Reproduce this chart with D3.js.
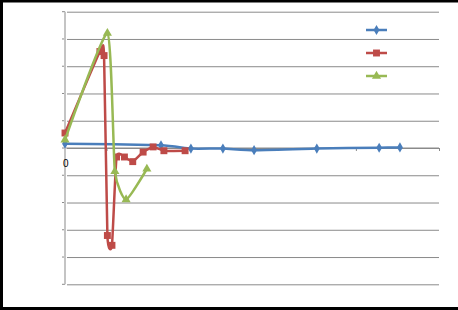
<!DOCTYPE html>
<html>
<head>
<meta charset="utf-8">
<script src="https://cdn.jsdelivr.net/npm/d3@7"></script>
<style>
  body { margin: 0; background: #fff; }
  svg { display: block; }
</style>
</head>
<body>
<div id="chart"></div>
<script>
// series data
const blueX = [0, 2.31, 3.03, 3.80, 4.55, 6.06, 7.56, 8.06];
const blueY = [0.16, 0.10, -0.02, -0.02, -0.08, -0.02, 0.01, 0.02];

const redX = [0, 0.84, 0.94, 1.02, 1.13, 1.24, 1.43, 1.63, 1.88, 2.12, 2.38, 2.89];
const redY = [0.55, 3.54, 3.39, -3.21, -3.57, -0.33, -0.33, -0.50, -0.15, 0.04, -0.10, -0.10];

const greenX = [0, 1.02, 1.20, 1.47, 1.97];
const greenY = [0.30, 4.21, -0.86, -1.89, -0.77];

const yTicks = [-5, -4, -3, -2, -1, 0, 1, 2, 3, 4, 5];
const xTicks = [1, 3, 5, 7, 9];
const xLabels = ["0"];

const W = 458, H = 310;
const plot = { left: 65, right: 439, top: 11.7, bottom: 284.3 };

const svg = d3.select("#chart")
    .append("svg")
    .attr("width", W)
    .attr("height", H);

const x = d3.scaleLinear()
    .domain([0, 9])
    .range([plot.left, plot.right]);

const y = d3.scaleLinear()
    .domain([-5, 5])
    .range([plot.bottom, plot.top]);

// horizontal gridlines
svg.append("g")
    .attr("transform", `translate(${plot.left},0)`)
    .call(d3.axisLeft(y)
        .tickValues(yTicks)
        .tickSize(-(plot.right - plot.left))
        .tickFormat("")
    )
    .call(g => g.select(".domain").remove())
    .call(g => g.selectAll(".tick line")
        .attr("stroke", "#8a8a8a")
        .attr("x1", 2));

// small ticks left of the y axis
svg.append("g")
    .attr("transform", `translate(${plot.left},0)`)
    .selectAll("line")
    .data(yTicks)
    .join("line")
    .attr("x1", -3).attr("x2", 0)
    .attr("y1", d => y(d)).attr("y2", d => y(d))
    .attr("stroke", "#8a8a8a");

// x axis along zero
svg.append("g")
    .attr("transform", `translate(0,${y(0)})`)
    .call(d3.axisBottom(x)
        .tickValues(xTicks)
        .tickSize(3)
        .tickFormat("")
    )
    .call(g => g.select(".domain")
        .attr("d", `M${plot.left},0H${plot.right}`)
        .attr("stroke", "#8a8a8a"))
    .call(g => g.selectAll(".tick line").attr("stroke", "#8a8a8a"));

// y axis line (light grey)
svg.append("line")
    .attr("x1", x(0)).attr("x2", x(0))
    .attr("y1", plot.top).attr("y2", plot.bottom)
    .attr("stroke", "#c4c4c4")
    .attr("stroke-width", 2);

svg.append("text")
    .attr("x", x(0) + 0.7)
    .attr("y", y(0) + 18.5)
    .attr("text-anchor", "middle")
    .attr("font-family", "Liberation Sans, Arial, sans-serif")
    .attr("font-size", 10)
    .attr("fill", "#000")
    .text(xLabels[0]);

const series = [
    { xs: blueX, ys: blueY, color: "#4a7ebb", shape: d3.symbolDiamond, size: 30 },
    { xs: redX, ys: redY, color: "#be4b48", shape: d3.symbolSquare, size: 48 },
    { xs: greenX, ys: greenY, color: "#98b954", shape: d3.symbolTriangle, size: 36 }
];

// Excel-style smoothing, kept tight so the long segments stay nearly straight
const line = d3.line()
    .x(d => x(d[0]))
    .y(d => y(d[1]))
    .curve(d3.curveCardinal.tension(0.5));

series.forEach(s => {
    const pts = s.xs.map((v, i) => [v, s.ys[i]]);
    svg.append("path")
        .datum(pts)
        .attr("fill", "none")
        .attr("stroke", s.color)
        .attr("stroke-width", 2.5)
        .attr("d", line);
    svg.append("g")
        .selectAll("path")
        .data(pts)
        .join("path")
        .attr("transform", d => `translate(${x(d[0])},${y(d[1])})`)
        .attr("d", d3.symbol().type(s.shape).size(s.size))
        .attr("fill", s.color);
});

// legend (no text visible)
const legend = svg.append("g");
series.forEach((s, i) => {
    const ly = 30 + i * 23;
    legend.append("line")
        .attr("x1", 366).attr("x2", 387)
        .attr("y1", ly).attr("y2", ly)
        .attr("stroke", s.color)
        .attr("stroke-width", 2.5);
    legend.append("path")
        .attr("transform", `translate(376.5,${ly})`)
        .attr("d", d3.symbol().type(s.shape).size(s.size))
        .attr("fill", s.color);
});

// chart frame: black on top, left, bottom
svg.append("path")
    .attr("d", `M${W},1H1.5V308.5H${W}`)
    .attr("fill", "none")
    .attr("stroke", "#000")
    .attr("stroke-width", 3);
</script>
</body>
</html>
